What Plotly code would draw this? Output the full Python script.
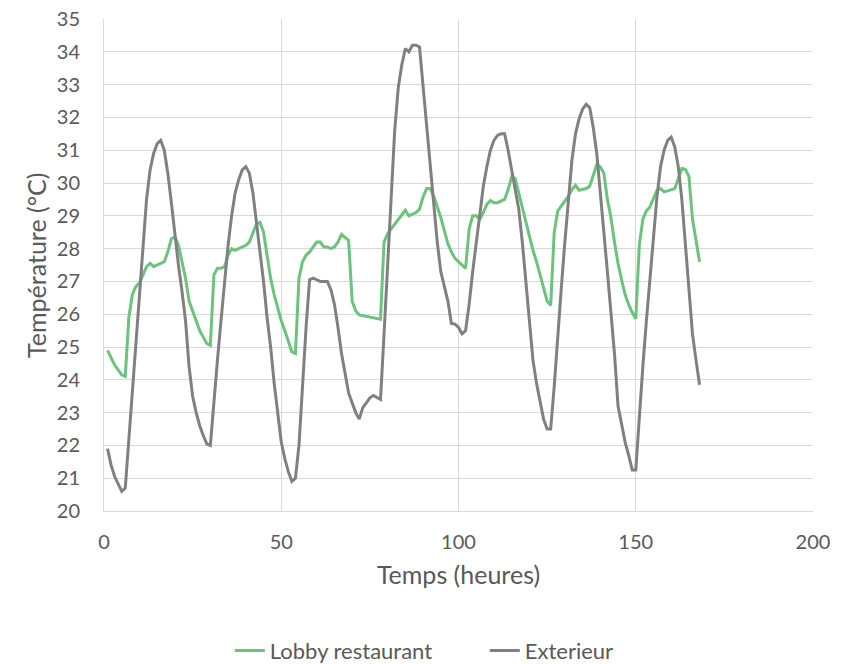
import plotly.graph_objects as go

# Hourly temperature readings over one week (hours 1..168)
hours = list(range(1, 169))

lobby_restaurant = [
    24.9, 24.65, 24.45, 24.3, 24.15, 24.1, 25.9, 26.6, 26.85, 26.95,
    27.2, 27.45, 27.55, 27.45, 27.5, 27.55, 27.6, 27.9, 28.3, 28.35,
    28.1, 27.6, 27.1, 26.4, 26.1, 25.8, 25.5, 25.3, 25.1, 25.05,
    27.2, 27.4, 27.4, 27.45, 27.8, 28.0, 27.95, 28.0, 28.05, 28.1,
    28.2, 28.5, 28.75, 28.8, 28.5, 27.8, 27.1, 26.6, 26.2, 25.8,
    25.5, 25.2, 24.85, 24.8, 27.1, 27.6, 27.8, 27.9, 28.05, 28.2,
    28.2, 28.05, 28.05, 28.0, 28.05, 28.2, 28.43, 28.35, 28.25, 26.4,
    26.1, 25.98, 25.96, 25.95, 25.93, 25.9, 25.88, 25.85, 28.2, 28.45,
    28.6, 28.75, 28.9, 29.05, 29.17, 29.0, 29.05, 29.1, 29.2, 29.57,
    29.83, 29.83, 29.6, 29.3, 28.95, 28.55, 28.15, 27.9, 27.7, 27.6,
    27.5, 27.4, 28.6, 29.0, 29.0, 28.9, 29.1, 29.35, 29.47, 29.4,
    29.4, 29.45, 29.5, 29.8, 30.19, 30.13, 29.7, 29.2, 28.75, 28.35,
    27.95, 27.6, 27.2, 26.8, 26.4, 26.27, 28.5, 29.15, 29.3, 29.42,
    29.6, 29.8, 29.93, 29.78, 29.8, 29.83, 29.9, 30.25, 30.56, 30.49,
    30.3, 29.5, 28.95, 28.2, 27.55, 27.05, 26.6, 26.3, 26.05, 25.86,
    28.1, 28.9, 29.15, 29.27, 29.52, 29.78, 29.83, 29.73, 29.76, 29.8,
    29.83, 30.13, 30.44, 30.42, 30.2, 28.9, 28.2, 27.6,
]

exterieur = [
    21.9, 21.4, 21.05, 20.8, 20.6, 20.7, 22.2, 23.8, 25.3, 26.7,
    28.2, 29.5, 30.4, 30.9, 31.2, 31.3, 31.0, 30.3, 29.4, 28.4,
    27.5, 26.7, 25.8, 24.4, 23.5, 23.0, 22.6, 22.3, 22.05, 22.0,
    23.4, 24.6, 25.8, 27.0, 28.1, 29.0, 29.7, 30.1, 30.4, 30.5,
    30.3, 29.7, 28.8, 27.9, 27.0, 25.9, 25.0, 23.9, 22.9, 22.1,
    21.6, 21.2, 20.9, 21.0, 22.0, 24.0, 25.6, 27.05, 27.1, 27.05,
    27.0, 27.0, 27.0, 26.75, 26.3, 25.6, 24.8, 24.2, 23.6, 23.3,
    23.0, 22.8, 23.15, 23.3, 23.45, 23.52, 23.45, 23.4, 25.4, 27.5,
    29.5, 31.6, 32.9, 33.6, 34.1, 34.0, 34.2, 34.2, 34.15, 33.0,
    31.8, 30.5, 29.3, 28.2, 27.3, 26.8, 26.4, 25.72, 25.7, 25.6,
    25.4, 25.5, 26.3, 27.3, 28.2, 29.1, 29.9, 30.5, 31.0, 31.3,
    31.45, 31.5, 31.5, 31.0, 30.4, 29.9, 29.2, 28.2, 27.0, 25.7,
    24.6, 23.9, 23.3, 22.8, 22.5, 22.5, 23.8, 25.4, 26.8, 28.2,
    29.6, 30.7, 31.5, 31.95, 32.25, 32.4, 32.3, 31.7, 30.9, 29.8,
    28.5, 27.3, 26.0, 24.8, 23.2, 22.6, 22.1, 21.7, 21.25, 21.25,
    22.9, 24.4, 25.8, 27.0, 28.4, 29.6, 30.5, 31.0, 31.3, 31.4,
    31.1, 30.5, 29.5, 28.1, 26.9, 25.4, 24.6, 23.85,
]

series_names = ["Lobby restaurant", "Exterieur"]
series_colors = ["#6BC37C", "#808080"]

x_ticks = [0, 50, 100, 150, 200]
y_ticks = list(range(20, 36))

x_title = "Temps (heures)"
y_title = "Température (°C)"

font_family = "Lato, 'Open Sans', sans-serif"
text_color = "#595959"
grid_color = "#D9D9D9"

fig = go.Figure()
for name, values, color in zip(series_names, [lobby_restaurant, exterieur], series_colors):
    fig.add_trace(go.Scatter(
        x=hours, y=values, name=name, mode="lines",
        line=dict(color=color, width=3),
    ))

fig.update_layout(
    width=848, height=664,
    margin=dict(l=104, r=35, t=19, b=153, autoexpand=False),
    paper_bgcolor="white", plot_bgcolor="white",
    font=dict(family=font_family, color=text_color, size=20),
    showlegend=True,
    legend=dict(
        orientation="h", xref="container", x=0.271, xanchor="left",
        yref="paper", y=-0.284, yanchor="middle",
        font=dict(size=22, color=text_color),
        entrywidth=210, entrywidthmode="pixels", tracegroupgap=0,
    ),
)

fig.update_xaxes(
    range=[0, 200], tickvals=x_ticks, ticktext=[str(v) for v in x_ticks],
    showgrid=True, gridcolor=grid_color, gridwidth=1,
    zeroline=False, showline=True, linecolor=grid_color, linewidth=1,
    ticks="", ticklabelstandoff=13,
    tickfont=dict(size=20, color=text_color),
    title=dict(text=x_title, font=dict(size=25, color=text_color), standoff=14),
)
fig.update_yaxes(
    range=[20, 35], tickvals=y_ticks, ticktext=[str(v) for v in y_ticks],
    showgrid=True, gridcolor=grid_color, gridwidth=1,
    zeroline=False, showline=True, linecolor=grid_color, linewidth=1,
    ticks="", ticklabelstandoff=19,
    tickfont=dict(size=20, color=text_color),
)

# Vertical axis title, rotated and centred on the plot area
fig.add_annotation(
    text=y_title, textangle=-90,
    xref="paper", yref="paper", x=-0.096, y=0.5,
    xanchor="center", yanchor="middle", showarrow=False,
    font=dict(size=25, color=text_color),
)

fig.write_html("out.html")
